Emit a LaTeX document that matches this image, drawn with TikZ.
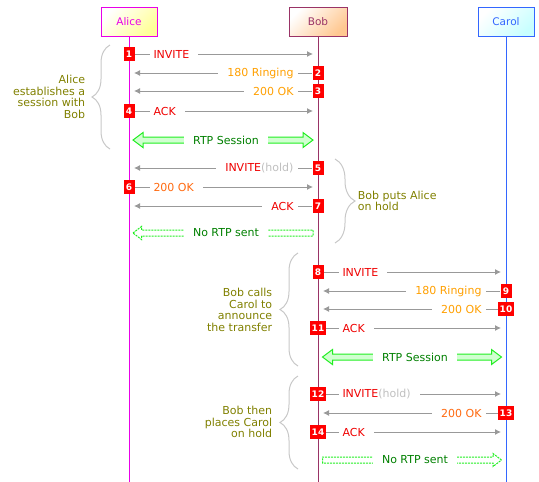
\documentclass[tikz,border=0pt]{standalone}
\usepackage{fontspec}
\setmainfont{DejaVu Sans}
\usetikzlibrary{calc,positioning,arrows.meta,decorations.pathreplacing}
\definecolor{alicec}{HTML}{E800E8}
\definecolor{alicefill}{HTML}{FFFF99}
\definecolor{bobc}{HTML}{993366}
\definecolor{bobfill}{HTML}{FFC891}
\definecolor{carolc}{HTML}{3366FF}
\definecolor{carolfill}{HTML}{C8FFFF}
\definecolor{msggray}{HTML}{999999}
\definecolor{msgred}{HTML}{F00000}
\definecolor{msgorange}{HTML}{FFA000}
\definecolor{msgdark}{HTML}{FF6A10}
\definecolor{holdgray}{HTML}{C0C0C0}
\definecolor{numred}{HTML}{FF0000}
\definecolor{noteolive}{HTML}{808000}
\definecolor{bracegray}{HTML}{C8C8C8}
\definecolor{rtpgreen}{HTML}{22EE22}
\definecolor{rtpfill}{HTML}{D0FFD0}
\definecolor{rtpdark}{HTML}{008000}
\def\rtpboth[#1](#2:#3:#4){\draw[#1] (#2,#4) -- (#2+10,#4-7.5) -- (#2+10,#4-3) -- (#3-10,#4-3) -- (#3-10,#4-7.5) -- (#3,#4) -- (#3-10,#4+7.5) -- (#3-10,#4+3) -- (#2+10,#4+3) -- (#2+10,#4+7.5) -- cycle;}
\def\rtpone[#1](#2:#3:#4){\draw[#1] (#2,#4) -- ({#2+8.5*sign(#3-#2)},#4-6.5) -- ({#2+8.5*sign(#3-#2)},#4-3) -- (#3,#4-3) -- (#3,#4+3) -- ({#2+8.5*sign(#3-#2)},#4+3) -- ({#2+8.5*sign(#3-#2)},#4+6.5) -- cycle;}

\begin{document}
\begin{tikzpicture}[x=1pt,y=-1pt,line width=1pt,
		head/.style={draw,minimum width=56pt,minimum height=29pt,inner sep=0pt,font=\fontsize{10.5}{12}\selectfont},
		num/.style={fill=numred,text=white,font=\fontsize{9}{10}\selectfont\bfseries,minimum width=11pt,minimum height=14pt,inner xsep=1.5pt,inner ysep=0pt},
		msg/.style={draw=msggray,-{Latex[length=6pt,width=6pt]}},
		lbl/.style={fill=white,inner xsep=4pt,inner ysep=1pt,font=\fontsize{11}{13}\selectfont},
		rlbl/.style={lbl,execute at end node=\hspace{5pt}},
		llbl/.style={lbl,execute at begin node=\hspace{5pt}},
		note/.style={text=noteolive,align=right,font=\fontsize{11}{11.7}\selectfont},
		curly/.style={draw=bracegray,decorate,decoration={brace,amplitude=#1}},
		rtp/.style={draw=rtpgreen,fill=rtpfill},
		nortp/.style={draw=rtpgreen,dash pattern=on 2pt off 1pt},
		rtptext/.style={fill=white,text=rtpdark,inner xsep=9pt,font=\fontsize{11}{13}\selectfont}]
				\useasboundingbox (0,0) rectangle (539,482);
				\coordinate (bottom) at (0,482);
				
				\node[head,draw=alicec,top color=white,bottom color=alicefill,shading angle=45,text=alicec] (alice) at (129,21.5) {Alice};
				\node[head,draw=bobc,top color=white,bottom color=bobfill,shading angle=45,text=bobc,minimum width=58pt] (bob) at (318,21.5) {Bob};
				\node[head,draw=carolc,top color=white,bottom color=carolfill,shading angle=45,text=carolc] (carol) at (506,21.5) {Carol};
				\draw[alicec] (alice.south) -- (alice |- bottom);
				\draw[bobc] (bob.south) -- (bob |- bottom);
				\draw[carolc] (carol.south) -- (carol |- bottom);
				
				\draw[curly=18pt] (110,149) -- (110,45);
				\node[note,anchor=east] (n1) at (89,97) {Alice\\establishes a\\session with\\Bob};
				
				\node[num] (m1) at (129,54) {1};
				\draw[msg] (m1.east) -- ($(m1 -| bob)+(-5,0)$);
				\node[rlbl,right=20pt of m1.center,text=msgred] (t1) {INVITE};
				
				\node[num] (m2) at (318,73) {2};
				\draw[msg] (m2.west) -- ($(m2 -| alice)+(5,0)$);
				\node[llbl,left=20pt of m2.center,text=msgorange] (t2) {180 Ringing};
				
				\node[num] (m3) at (318,91) {3};
				\draw[msg] (m3.west) -- ($(m3 -| alice)+(5,0)$);
				\node[llbl,left=20pt of m3.center,text=msgorange] (t3) {200 OK};
				
				\node[num] (m4) at (129,111) {4};
				\draw[msg] (m4.east) -- ($(m4 -| bob)+(-5,0)$);
				\node[rlbl,right=20pt of m4.center,text=msgred] (t4) {ACK};
				
				\rtpboth[rtp](133:313:140);
				\node[rtptext] (s1) at (226,140) {RTP Session};
				
				\draw[curly=20pt] (335,159) -- (335,243);
				\node[note,anchor=west,align=left] (n2) at (354,201) {Bob puts Alice\\on hold};
				
				\node[num] (m5) at (318,168) {5};
				\draw[msg] (m5.west) -- ($(m5 -| alice)+(5,0)$);
				\node[llbl,left=20pt of m5.center,text=msgred] (t5) {INVITE\textcolor{holdgray}{(hold)}};
				
				\node[num] (m6) at (129,187) {6};
				\draw[msg] (m6.east) -- ($(m6 -| bob)+(-5,0)$);
				\node[rlbl,right=20pt of m6.center,text=msgdark] (t6) {200 OK};
				
				\node[num] (m7) at (318,206) {7};
				\draw[msg] (m7.west) -- ($(m7 -| alice)+(5,0)$);
				\node[llbl,left=20pt of m7.center,text=msgred] (t7) {ACK};
				
				\rtpone[nortp](133:313:233);
				\node[rtptext] (s2) at (226,233) {No RTP sent};
				
				\draw[curly=18pt] (298,366) -- (298,253);
				\node[note,anchor=east] (n3) at (276,310) {Bob calls\\Carol to\\announce\\the transfer};
				
				\node[num] (m8) at (318,272) {8};
				\draw[msg] (m8.east) -- ($(m8 -| carol)+(-5,0)$);
				\node[rlbl,right=20pt of m8.center,text=msgred] (t8) {INVITE};
				
				\node[num] (m9) at (506,291) {9};
				\draw[msg] (m9.west) -- ($(m9 -| bob)+(5,0)$);
				\node[llbl,left=20pt of m9.center,text=msgorange] (t9) {180 Ringing};
				
				\node[num] (m10) at (506,309) {10};
				\draw[msg] (m10.west) -- ($(m10 -| bob)+(5,0)$);
				\node[llbl,left=20pt of m10.center,text=msgorange] (t10) {200 OK};
				
				\node[num] (m11) at (318,328) {11};
				\draw[msg] (m11.east) -- ($(m11 -| carol)+(-5,0)$);
				\node[rlbl,right=20pt of m11.center,text=msgred] (t11) {ACK};
				
				\rtpboth[rtp](322.5:501.5:357);
				\node[rtptext] (s3) at (415,357) {RTP Session};
				
				\draw[curly=18pt] (298,469) -- (298,376);
				\node[note,anchor=east] (n4) at (276,422) {Bob then\\places Carol\\on hold};
				
				\node[num] (m12) at (318,394) {12};
				\draw[msg] (m12.east) -- ($(m12 -| carol)+(-5,0)$);
				\node[rlbl,right=20pt of m12.center,text=msgred] (t12) {INVITE\textcolor{holdgray}{(hold)}};
				
				\node[num] (m13) at (506,413) {13};
				\draw[msg] (m13.west) -- ($(m13 -| bob)+(5,0)$);
				\node[llbl,left=20pt of m13.center,text=msgdark] (t13) {200 OK};
				
				\node[num] (m14) at (318,432) {14};
				\draw[msg] (m14.east) -- ($(m14 -| carol)+(-5,0)$);
				\node[rlbl,right=20pt of m14.center,text=msgred] (t14) {ACK};
				
				\rtpone[nortp](501.5:322.5:460);
				\node[rtptext] (s4) at (415,460) {No RTP sent};
			\end{tikzpicture}
\end{document}
